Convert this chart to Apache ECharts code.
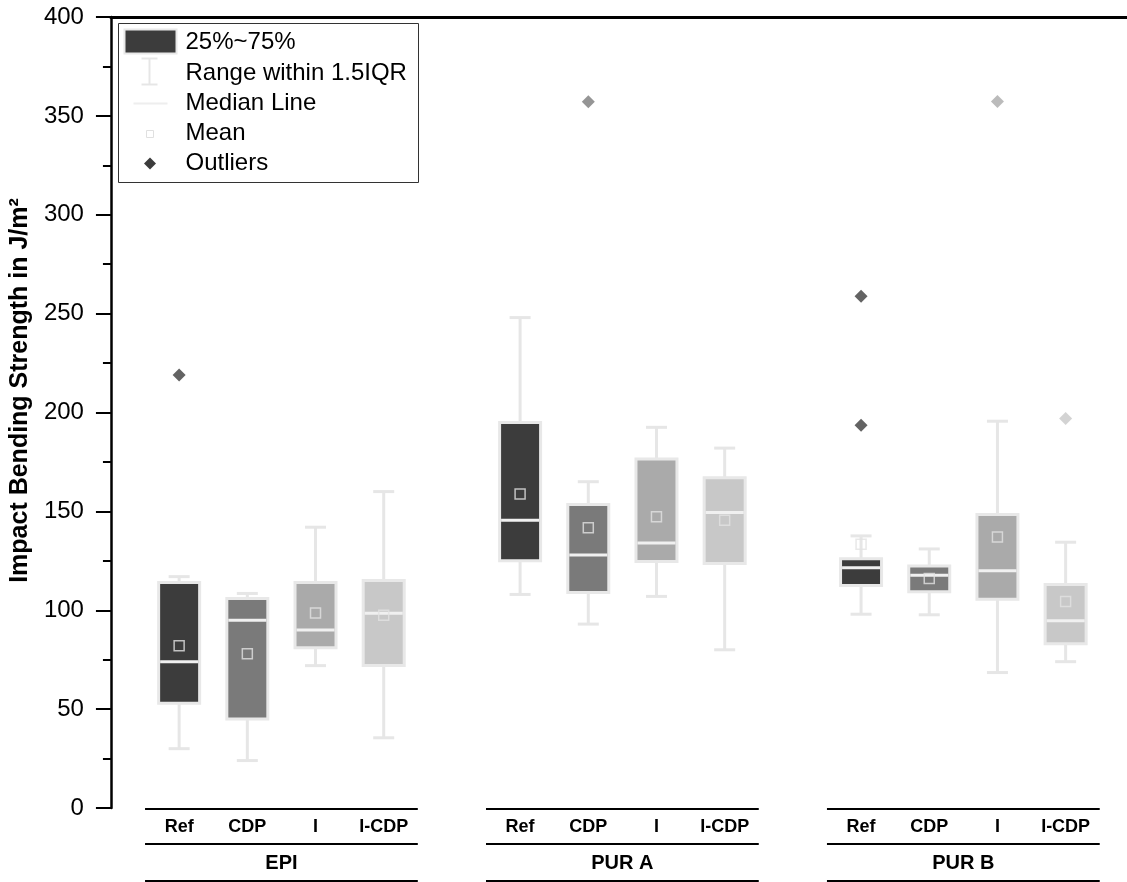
<!DOCTYPE html>
<html><head><meta charset="utf-8">
<script src="https://cdn.jsdelivr.net/npm/echarts@6/dist/echarts.min.js"></script>
<style>html,body{margin:0;padding:0;background:#fff}#c{width:1127px;height:882px}</style>
</head><body><div id="c"></div>
<script>
// ---- data ----
const groups = ['EPI', 'PUR A', 'PUR B'];
const categories = ['Ref', 'CDP', 'I', 'I-CDP'];
const yTicks = [0, 50, 100, 150, 200, 250, 300, 350, 400];
// [lower whisker, Q1, median, Q3, upper whisker] per category
const statsEPI  = [[30, 53, 74, 114, 117], [24, 45, 95, 106, 108.5], [72, 81, 90, 114, 142], [35.5, 72, 98.5, 115, 160]];
const statsPURA = [[108, 125, 145.5, 195, 248], [93, 109, 128, 153.5, 165], [107, 124.7, 134, 176.5, 192.5], [80, 123.6, 149.4, 167, 182]];
const statsPURB = [[98, 112.5, 121.5, 126, 137.6], [97.7, 109.4, 117.7, 122.4, 131], [68.5, 105.5, 120, 148.4, 195.6], [74, 83, 94.7, 113, 134.4]];
const meanEPI  = [82, 78, 98.6, 97.5];
const meanPURA = [158.8, 141.7, 147.3, 145.5];
const meanPURB = [133.4, 116, 137, 104.4];
// outliers: [group index, category index, value]
const outliers = [[0, 0, 219], [1, 1, 357.2], [2, 0, 258.8], [2, 0, 193.5], [2, 2, 357.3], [2, 3, 197]];

// ---- styles ----
const fills = ['#3c3c3c', '#7a7a7a', '#aaaaaa', '#c8c8c8'];
const FONT = 'Liberation Sans, Arial, sans-serif';
const lineGray = '#e6e6e6';

const allStats = [statsEPI, statsPURA, statsPURB];
const allMeans = [meanEPI, meanPURA, meanPURB];
const pos = (g, c) => g * 5 + c + 1;

const boxData = [], meanData = [];
allStats.forEach((st, g) => st.forEach((s, c) => {
  boxData.push([pos(g, c)].concat(s).concat([c]));
  meanData.push([pos(g, c), allMeans[g][c]]);
}));
const outData = outliers.map(o => [pos(o[0], o[1]), o[2], o[1]]);
const groupSpans = groups.map((n, g) => [pos(g, 0) - 0.5, pos(g, 3) + 0.5]);

const XMAX = 14.9;
const chart = echarts.init(document.getElementById('c'), null, {renderer: 'canvas'});
chart.setOption({
  animation: false,
  backgroundColor: '#fff',
  grid: {left: 110, right: 0, top: 17, bottom: 74},
  xAxis: [
    {type: 'value', position: 'bottom', min: 0, max: XMAX, interval: 1,
     axisLine: {show: false}, axisTick: {show: false}, splitLine: {show: false},
     axisLabel: {showMaxLabel: false, showMinLabel: false, margin: 10,
       fontFamily: FONT, fontSize: 18, fontWeight: 'bold', color: '#000',
       formatter: v => { const r = Math.round(v); if (Math.abs(v - r) > 1e-6) return ''; const c = r % 5; return (c >= 1 && c <= 4) ? categories[c - 1] : ''; }}},
    {type: 'value', position: 'bottom', offset: 36, min: 0, max: XMAX, interval: 2.5,
     axisLine: {show: false}, axisTick: {show: false}, splitLine: {show: false},
     axisLabel: {showMaxLabel: false, showMinLabel: false, margin: 9,
       fontFamily: FONT, fontSize: 20, fontWeight: 'bold', color: '#000',
       formatter: v => { const k = (v - 2.5) / 5; const r = Math.round(k); return (Math.abs(k - r) < 1e-6 && r >= 0 && r < groups.length) ? groups[r] : ''; }}},
    {type: 'value', position: 'top', min: 0, max: XMAX,
     axisLine: {show: true, lineStyle: {color: '#000', width: 3}}, axisTick: {show: false},
     axisLabel: {show: false}, splitLine: {show: false}}
  ],
  yAxis: {
    type: 'value', min: yTicks[0], max: yTicks[yTicks.length - 1], interval: 50,
    axisLine: {show: true, onZero: false, lineStyle: {color: '#000', width: 2.5}},
    axisTick: {show: true, length: 15, lineStyle: {color: '#000', width: 2}},
    minorTick: {show: true, splitNumber: 2, length: 8, lineStyle: {color: '#000', width: 2}},
    splitLine: {show: false},
    axisLabel: {margin: 27, fontFamily: FONT, fontSize: 24, color: '#000',
      formatter: v => yTicks.indexOf(v) >= 0 ? String(v) : ''},
    name: 'Impact Bending Strength in J/m²', nameLocation: 'middle', nameGap: 58,
    nameTextStyle: {fontFamily: FONT, fontSize: 25, fontWeight: 'bold', color: '#000', padding: [0, 0, 0, 44]}
  },
  series: [
    {type: 'custom', name: 'groupLines', xAxisIndex: 0, data: groupSpans, clip: false, silent: true,
     renderItem: (params, api) => {
       const a = api.coord([api.value(0), 0]);
       const b = api.coord([api.value(1), 0]);
       const mk = dy => ({type: 'line', shape: {x1: a[0], y1: a[1] + dy, x2: b[0], y2: a[1] + dy}, style: {stroke: '#000', lineWidth: 2}});
       return {type: 'group', children: [mk(1), mk(36), mk(73)]};
     }},
    {type: 'custom', name: 'boxes', xAxisIndex: 0, data: boxData, silent: true, z: 2,
     encode: {x: 0, y: [1, 2, 3, 4, 5]},
     renderItem: (params, api) => {
       const x = api.value(0);
       const c = api.value(6);
       const pl = api.coord([x, api.value(1)]);
       const p1 = api.coord([x, api.value(2)]);
       const pm = api.coord([x, api.value(3)]);
       const p3 = api.coord([x, api.value(4)]);
       const ph = api.coord([x, api.value(5)]);
       const cx = pl[0], hw = 20.5, cw = 10.5;
       const ln = (x1, y1, x2, y2, col) => ({type: 'line', shape: {x1, y1, x2, y2}, style: {stroke: col || lineGray, lineWidth: 3}});
       return {type: 'group', children: [
         ln(cx, p3[1], cx, ph[1]), ln(cx - cw, ph[1], cx + cw, ph[1]),
         ln(cx, p1[1], cx, pl[1]), ln(cx - cw, pl[1], cx + cw, pl[1]),
         {type: 'rect', shape: {x: cx - hw, y: p3[1], width: hw * 2, height: p1[1] - p3[1]},
          style: {fill: fills[c], stroke: '#e8e8e8', lineWidth: 3}},
         ln(cx - hw + 1.5, pm[1], cx + hw - 1.5, pm[1], '#f0f0f0')
       ]};
     }},
    {type: 'scatter', name: 'Mean', data: meanData, symbol: 'rect', symbolSize: 10, z: 4, silent: true,
     itemStyle: {color: 'rgba(0,0,0,0)', borderColor: '#e2e2e2', borderWidth: 1.5}},
    {type: 'scatter', name: 'Outliers', data: outData, symbol: 'diamond', symbolSize: 13, z: 4, silent: true,
     itemStyle: {color: p => fills[p.data[2]]}}
  ],
  graphic: [
    {type: 'group', left: 118, top: 23, children: [
      {type: 'rect', shape: {x: 0, y: 0, width: 300, height: 159}, style: {fill: '#fff', stroke: '#333', lineWidth: 1}},
      {type: 'rect', shape: {x: 6, y: 6, width: 52, height: 24}, style: {fill: fills[0], stroke: '#e8e8e8', lineWidth: 2}},
      {type: 'line', shape: {x1: 31, y1: 35, x2: 31, y2: 61}, style: {stroke: lineGray, lineWidth: 2}},
      {type: 'line', shape: {x1: 23, y1: 35, x2: 39, y2: 35}, style: {stroke: lineGray, lineWidth: 2}},
      {type: 'line', shape: {x1: 23, y1: 61, x2: 39, y2: 61}, style: {stroke: lineGray, lineWidth: 2}},
      {type: 'line', shape: {x1: 15, y1: 80, x2: 49, y2: 80}, style: {stroke: '#eeeeee', lineWidth: 2}},
      {type: 'rect', shape: {x: 28, y: 107, width: 7, height: 7}, style: {fill: 'none', stroke: '#e0e0e0', lineWidth: 1}},
      {type: 'polygon', shape: {points: [[31.5, 134], [37.5, 140], [31.5, 146], [25.5, 140]]}, style: {fill: fills[0]}},
      {type: 'text', x: 67, y: 19, style: {text: '25%~75%', fontFamily: FONT, fontSize: 24, fill: '#000', verticalAlign: 'middle'}},
      {type: 'text', x: 67, y: 50, style: {text: 'Range within 1.5IQR', fontFamily: FONT, fontSize: 24, fill: '#000', verticalAlign: 'middle'}},
      {type: 'text', x: 67, y: 80, style: {text: 'Median Line', fontFamily: FONT, fontSize: 24, fill: '#000', verticalAlign: 'middle'}},
      {type: 'text', x: 67, y: 110, style: {text: 'Mean', fontFamily: FONT, fontSize: 24, fill: '#000', verticalAlign: 'middle'}},
      {type: 'text', x: 67, y: 140, style: {text: 'Outliers', fontFamily: FONT, fontSize: 24, fill: '#000', verticalAlign: 'middle'}}
    ]}
  ]
});
</script></body></html>
